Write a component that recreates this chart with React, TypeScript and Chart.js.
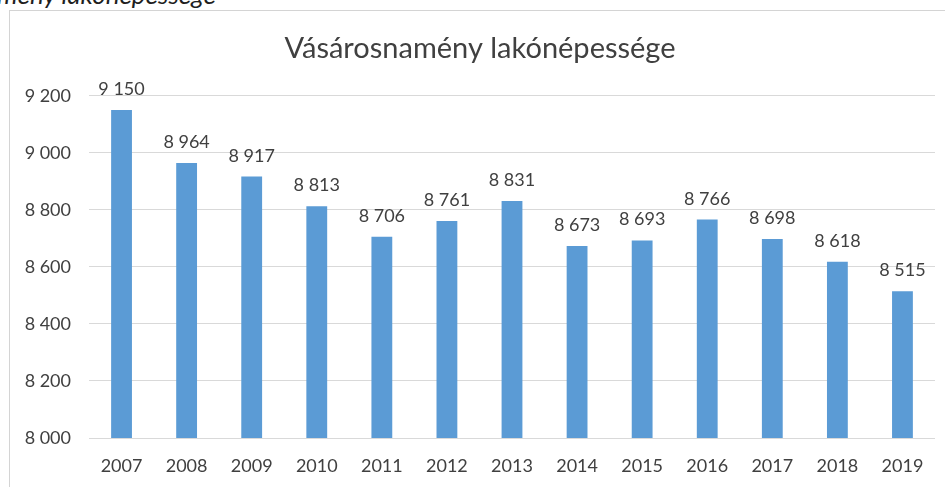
import React, { useEffect, useRef } from "react";
import { Chart, registerables } from "chart.js";

Chart.register(...registerables);

const years = ["2007", "2008", "2009", "2010", "2011", "2012", "2013", "2014", "2015", "2016", "2017", "2018", "2019"];
const population = [9150, 8964, 8917, 8813, 8706, 8761, 8831, 8673, 8693, 8766, 8698, 8618, 8515];
const titleText = "Vásárosnamény lakónépessége";
const captionText = "1. ábra: Vásárosnamény lakónépessége";

const FONT = "Lato, 'Open Sans', sans-serif";
const TEXT = "#404040";

const fmt = (v: number) => {
  const s = String(Math.round(v));
  return s.replace(/\B(?=(\d{3})+(?!\d))/g, " ");
};

const labelPlugin = {
  id: "barLabels",
  afterDatasetsDraw(chart: any) {
    const ctx = chart.ctx;
    const meta = chart.getDatasetMeta(0);
    ctx.save();
    ctx.font = `18px ${FONT}`;
    ctx.fillStyle = TEXT;
    ctx.textAlign = "center";
    ctx.textBaseline = "alphabetic";
    meta.data.forEach((bar: any, i: number) => {
      ctx.fillText(fmt(population[i]), bar.x, bar.y - 15);
    });
    ctx.restore();
  },
};

export default function App() {
  const ref = useRef<HTMLCanvasElement>(null);
  useEffect(() => {
    if (!ref.current) return;
    const chart = new Chart(ref.current, {
      type: "bar",
      data: {
        labels: years,
        datasets: [
          {
            data: population,
            backgroundColor: "#5b9bd5",
            borderWidth: 0,
            barPercentage: 0.32,
            categoryPercentage: 1,
          },
        ],
      },
      options: {
        animation: false,
        responsive: false,
        maintainAspectRatio: false,
        layout: { padding: { left: 25, right: 10, top: 0, bottom: 0 } },
        plugins: {
          legend: { display: false },
          tooltip: { enabled: false },
          title: {
            display: true,
            text: titleText,
            color: TEXT,
            font: { family: FONT, size: 29, weight: "normal", lineHeight: 1.2 },
            padding: { top: 31, bottom: 30 },
          },
        },
        scales: {
          x: {
            grid: { display: false, drawTicks: false },
            border: { display: false },
            ticks: { color: TEXT, font: { family: FONT, size: 18 }, padding: 17, maxRotation: 0 },
            afterFit(scale: any) {
              scale.height = 49;
            },
          },
          y: {
            min: 8000,
            max: 9200,
            grid: { color: "#d9d9d9", lineWidth: 1, drawTicks: false },
            border: { display: false },
            ticks: {
              stepSize: 200,
              color: TEXT,
              font: { family: FONT, size: 18 },
              padding: 18,
              callback: (v: any) => fmt(Number(v)),
            },
            afterFit(scale: any) {
              scale.width = 64;
            },
          },
        },
      },
      plugins: [labelPlugin],
    });
    return () => chart.destroy();
  }, []);

  return (
    <div style={{ position: "fixed", left: 0, top: 0, width: 945, height: 487, background: "#fff", overflow: "hidden" }}>
      <div
        style={{
          position: "absolute",
          right: 945 - 216,
          top: -19,
          whiteSpace: "nowrap",
          fontFamily: FONT,
          fontStyle: "italic",
          fontSize: 26,
          lineHeight: "26px",
          color: "#1f1f1f",
        }}
      >
        {captionText}
      </div>
      <div
        style={{
          position: "absolute",
          left: 9,
          top: 10,
          width: 1000,
          height: 1000,
          border: "1.5px solid #d4d4d4",
        }}
      />
      <canvas ref={ref} width={945} height={487} style={{ position: "absolute", left: 0, top: 0 }} />
    </div>
  );
}
